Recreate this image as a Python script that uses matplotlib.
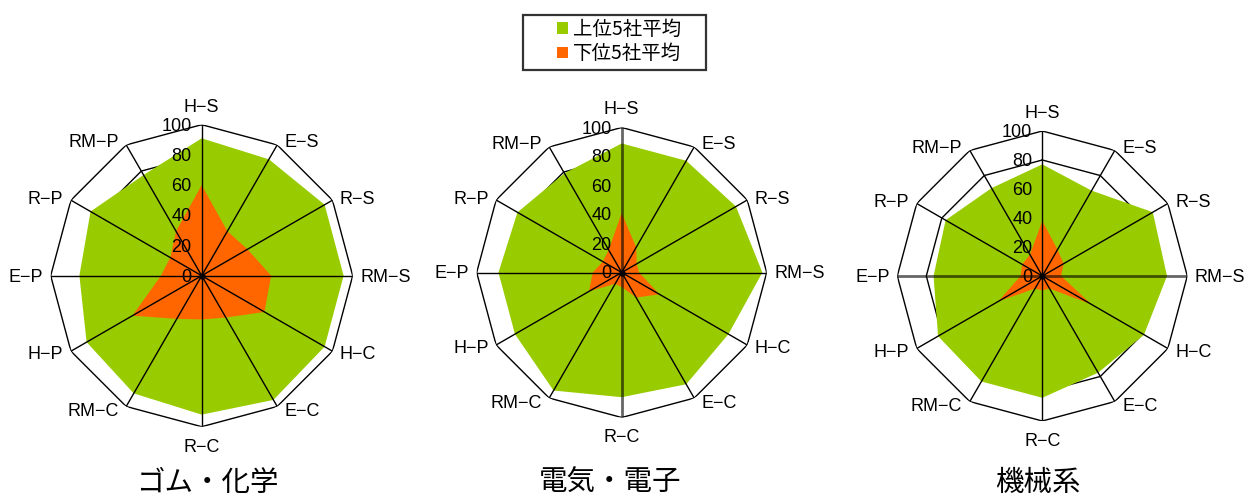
import numpy as np
import matplotlib
matplotlib.use("Agg")
import matplotlib.pyplot as plt
from matplotlib.patches import Patch, Rectangle

plt.rcParams['font.family'] = ['Noto Sans CJK JP', 'DejaVu Sans']
LATIN = ['Liberation Sans', 'DejaVu Sans']

# --- data -------------------------------------------------------------
categories = ['H−S', 'E−S', 'R−S', 'RM−S', 'H−C', 'E−C',
              'R−C', 'RM−C', 'H−P', 'E−P', 'R−P', 'RM−P']
radial_ticks = [0, 20, 40, 60, 80, 100]
series_names = ['上位5社平均', '下位5社平均']
industries = ['ゴム・化学', '電気・電子', '機械系']

rubber_top = [91, 89, 94, 94, 94, 95, 92, 90, 88, 81, 85, 77]
rubber_bottom = [60, 34, 35, 46, 48, 32, 29, 33, 53, 27, 24, 34]
elec_top = [89, 89, 91, 97, 85, 89, 86, 94, 85, 85, 83, 79]
elec_bottom = [41, 20, 12, 12, 30, 20, 10, 9, 26, 20, 15, 18]
mach_top = [77, 68, 88, 86, 81, 77, 84, 84, 83, 75, 77, 70]
mach_bottom = [38, 21, 17, 13, 39, 10, 10, 10, 35, 15, 16, 17]

top_series = [rubber_top, elec_top, mach_top]
bottom_series = [rubber_bottom, elec_bottom, mach_bottom]

# --- styling / layout -------------------------------------------------
GREEN = '#99CC00'
ORANGE = '#FF6600'
W, H = 1250, 496
centers_px = [(201.7, 275.7), (621.7, 272.5), (1042.3, 276.0)]
radii_px = [151, 145, 145]
title_y_px = 483
title_x_px = [207, 610, 1038]
# spokes that render heavier in each panel (indices into categories)
heavy_spokes = [[], [0, 6], [3, 9]]

fig = plt.figure(figsize=(W / 100, H / 100), dpi=100)

n = len(categories)
angles = np.arange(n) * 2 * np.pi / n
closed = np.append(angles, angles[0])

for i in range(3):
    cx, cy = centers_px[i]
    r = radii_px[i]
    ax = fig.add_axes([(cx - r) / W, (H - cy - r) / H, 2 * r / W, 2 * r / H],
                      projection='polar')
    ax.set_theta_zero_location('N')
    ax.set_theta_direction(-1)
    ax.set_ylim(0, 100)
    ax.grid(False)
    ax.set_xticks([])
    ax.set_yticks([])
    ax.spines['polar'].set_visible(False)
    ax.patch.set_alpha(0)

    # polygon rings
    for v in radial_ticks[1:]:
        ax.plot(closed, [v] * (n + 1), color='black', lw=1.0, zorder=1)

    top = np.append(top_series[i], top_series[i][0])
    bot = np.append(bottom_series[i], bottom_series[i][0])
    ax.fill(closed, top, color=GREEN, lw=0, zorder=2)
    ax.fill(closed, bot, color=ORANGE, lw=0, zorder=3)

    # spokes
    for k, a in enumerate(angles):
        if k in heavy_spokes[i]:
            ax.plot([a, a], [0, 100], color='black', alpha=0.6, lw=2.0, zorder=4)
        else:
            ax.plot([a, a], [0, 100], color='black', lw=1.0, zorder=4)
    ax.plot([0], [0], 'o', color='black', ms=3.5, zorder=5)

    # radial value labels
    for v in radial_ticks:
        ax.annotate(str(v), xy=(0, v), xytext=(-10, -1.5),
                    textcoords='offset pixels', ha='right', va='center',
                    fontsize=13, family=LATIN, zorder=6,
                    annotation_clip=False)

    # category labels
    for lab, a in zip(categories, angles):
        s, c = np.sin(a), np.cos(a)
        if abs(s) < 1e-6:
            ha = 'center'
            dx = 0
            dy = -1.5 + 19 * c
        else:
            ha = 'left' if s > 0 else 'right'
            dx = 7.5 * np.sign(s)
            dy = -1.5 + 4.5 * c
        ax.annotate(lab, xy=(a, 100), xytext=(dx, dy),
                    textcoords='offset pixels', ha=ha, va='center',
                    fontsize=13, family=LATIN, annotation_clip=False)

    fig.text(title_x_px[i] / W, 1 - title_y_px / H, industries[i],
             ha='center', va='center', fontsize=20.5)

# legend: entries without frame, boxed by a separate rectangle
handles = [Patch(facecolor=GREEN, edgecolor='none'),
           Patch(facecolor=ORANGE, edgecolor='none')]
leg = fig.legend(handles, series_names, loc='center',
                 bbox_to_anchor=(619 / W, 1 - 41.5 / H),
                 fontsize=14, frameon=False,
                 handlelength=0.55, handleheight=0.55, handletextpad=0.25,
                 labelspacing=0.2, borderpad=0.0, borderaxespad=0)
fig.add_artist(Rectangle((522.5 / W, 1 - 69.5 / H), 184 / W, 54.5 / H,
                         transform=fig.transFigure, fill=False,
                         edgecolor='#333333', lw=1.6))

fig.savefig('out.png', dpi=100)
